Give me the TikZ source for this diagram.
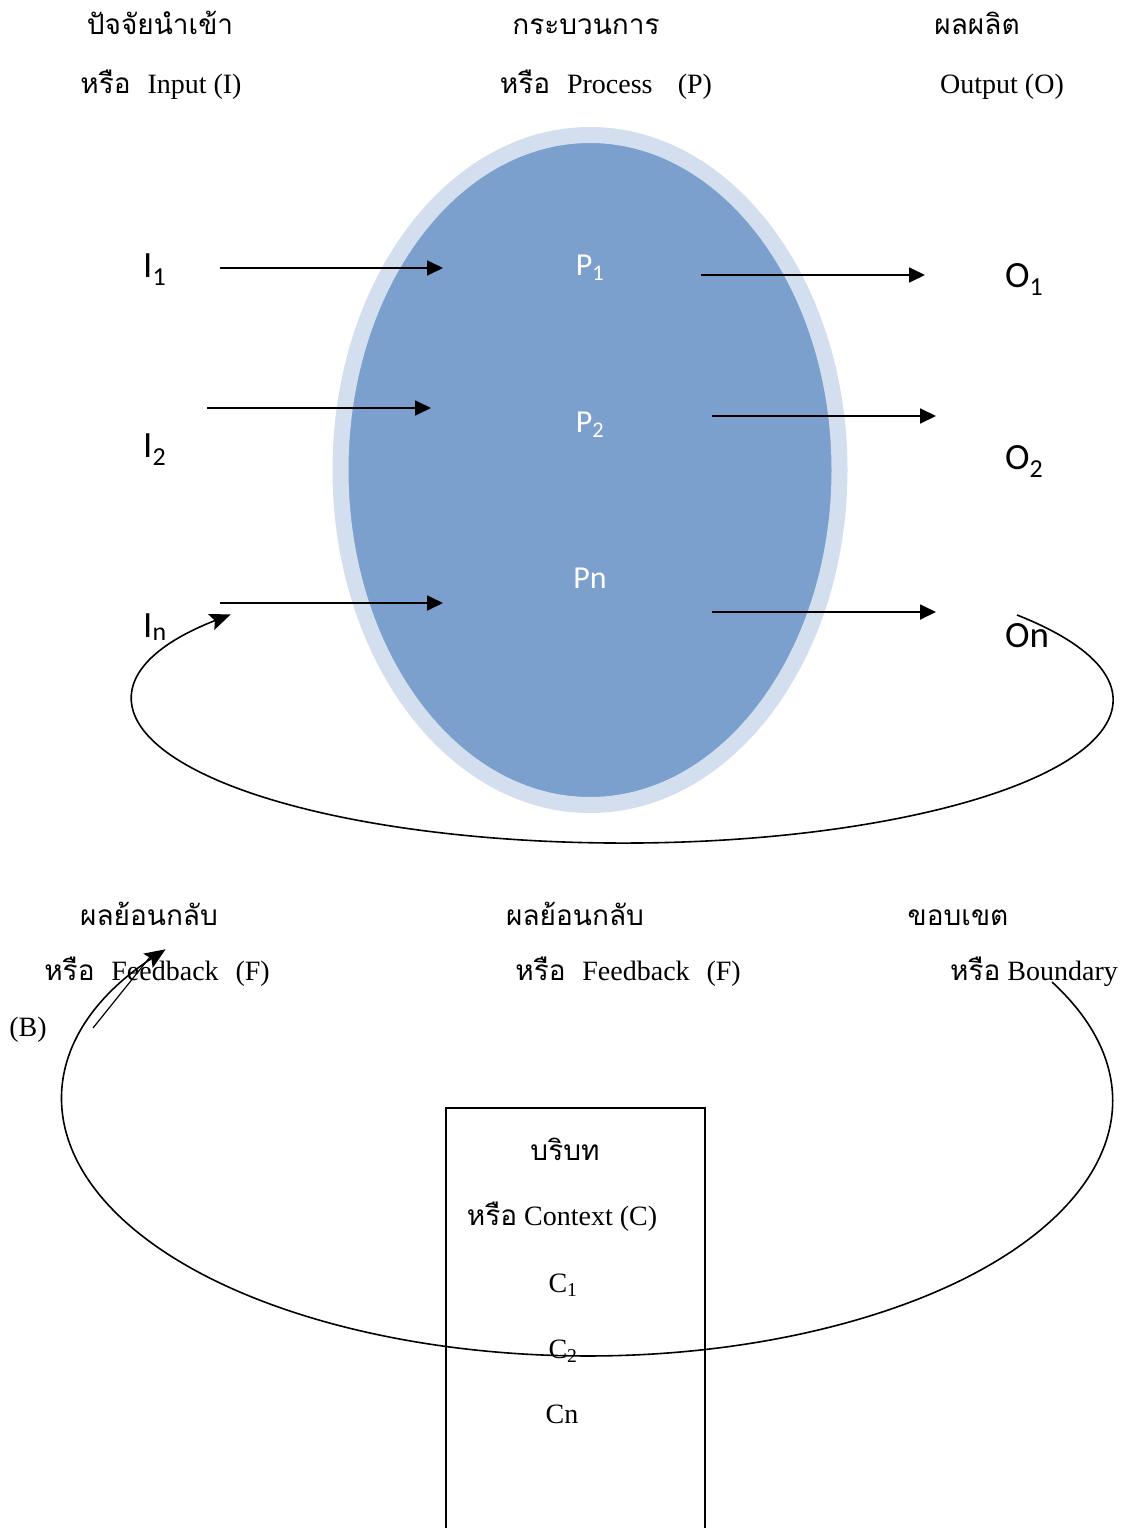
\documentclass[tikz,border=0pt]{standalone}
\usepackage{fontspec}
\setmainfont{Liberation Serif}
\newfontfamily\thaifont[Script=Thai]{Loma}
\newfontfamily\labelfont{Carlito}
\usetikzlibrary{arrows.meta,positioning,calc,shapes.geometric}
\definecolor{procfill}{HTML}{7BA0CD}
\definecolor{procring}{HTML}{D3DFEE}
\newcommand{\thai}[1]{{\thaifont #1}}

\tikzset{
  heading/.style={font=\fontsize{28}{34}\selectfont, inner sep=0pt, anchor=base},
  iolabel/.style={font=\labelfont\fontsize{37}{40}\selectfont, inner sep=0pt, anchor=base west},
  proclabel/.style={font=\labelfont\fontsize{32}{36}\selectfont, text=white, inner sep=0pt, anchor=base},
  flow/.style={-{Triangle[length=16pt,width=15pt]}, line width=1.8pt},
  looparrow/.style={-{Stealth[length=21pt,width=17pt,inset=4pt]}, line width=1.6pt}
}

\begin{document}
\begin{tikzpicture}[x=1pt,y=-1pt]
  \useasboundingbox (0,0) rectangle (1130,1528);

  % process ellipse
  \node[
    ellipse,
    fill=procfill,
    draw=procring,
    line width=16pt,
    minimum width=499pt,
    minimum height=670pt,
    inner sep=0pt
  ] (proc) at (590,470) {};

  % headings
  \node[heading] (inTh) at (160,35) {\thai{ปัจจัยนำเข้า}};
  \node[heading] (inEn) at (161,93) {\thai{หรือ}\hspace{0.6em}Input (I)};
  \node[heading] (prTh) at (586,35) {\thai{กระบวนการ}};
  \node[heading] (prEn) at (606,93) {\thai{หรือ}\hspace{0.6em}Process\hspace{0.9em}(P)};
  \node[heading] (ouTh) at (977,35) {\thai{ผลผลิต}};
  \node[heading] (ouEn) at (1002,93) {Output (O)};

  % inputs, process steps, outputs
  \node[iolabel] (in1) at (143,277) {I\textsubscript{1}};
  \node[iolabel] (in2) at (143,457) {I\textsubscript{2}};
  \node[iolabel] (inN) at (143,637) {I\textsubscript{n}};
  \node[proclabel] (p1) at (590,275) {P\textsubscript{1}};
  \node[proclabel] (p2) at (590,432) {P\textsubscript{2}};
  \node[proclabel] (pN) at (590,588) {Pn};
  \node[iolabel] (out1) at (1005,287) {O\textsubscript{1}};
  \node[iolabel] (out2) at (1005,469) {O\textsubscript{2}};
  \node[iolabel] (outN) at (1005,647) {On};

  \coordinate (a1s) at (220,268);  \coordinate (a1e) at (443,268);
  \coordinate (a2s) at (207,408);  \coordinate (a2e) at (431,408);
  \coordinate (a3s) at (220,603);  \coordinate (a3e) at (443,603);
  \coordinate (b1s) at (701,275);  \coordinate (b1e) at (925,275);
  \coordinate (b2s) at (712,416);  \coordinate (b2e) at (936,416);
  \coordinate (b3s) at (712,612);  \coordinate (b3e) at (936,612);
  \draw[flow] (a1s) -- (a1e);
  \draw[flow] (a2s) -- (a2e);
  \draw[flow] (a3s) -- (a3e);
  \draw[flow] (b1s) -- (b1e);
  \draw[flow] (b2s) -- (b2e);
  \draw[flow] (b3s) -- (b3e);

  % feedback loop from On back to In
  \coordinate (fbStart) at (1017,615);
  \draw[looparrow] (fbStart) arc[start angle=-36.5, end angle=216.8, x radius=490, y radius=143];

  % lower headings
  \node[heading] (fbTh) at (149,925) {\thai{ผลย้อนกลับ}};
  \node[heading] (fbEn) at (157,980) {\thai{หรือ}\hspace{0.6em}Feedback\hspace{0.6em}(F)};
  \node[heading] (fb2Th) at (575,925) {\thai{ผลย้อนกลับ}};
  \node[heading] (fb2En) at (628,980) {\thai{หรือ}\hspace{0.6em}Feedback\hspace{0.6em}(F)};
  \node[heading] (bdTh) at (958,925) {\thai{ขอบเขต}};
  \node[heading] (bdEn) at (1034,980) {\thai{หรือ} Boundary};
  \node[heading] (bLbl) at (28,1036) {(B)};

  % boundary loop
  \coordinate (bdStart) at (1052,982);
  \draw[looparrow] (bdStart) arc[start angle=-27.8, end angle=216.5, x radius=525, y radius=255];
  \coordinate (tickA) at (93,1028);
  \coordinate (tickB) at (150,957);
  \draw[line width=1.2pt] (tickA) -- (tickB);

  % context box
  \draw[line width=1.5pt] (446,1535) -- (446,1108) -- (705,1108) -- (705,1535);
  \node[heading] (ctxTh) at (565,1160) {\thai{บริบท}};
  \node[heading] (ctxEn) at (562,1225) {\thai{หรือ} Context (C)};
  \node[heading] (c1) at (563,1292) {C\textsubscript{1}};
  \node[heading] (c2) at (563,1358) {C\textsubscript{2}};
  \node[heading] (cN) at (562,1423) {Cn};
\end{tikzpicture}
\end{document}
